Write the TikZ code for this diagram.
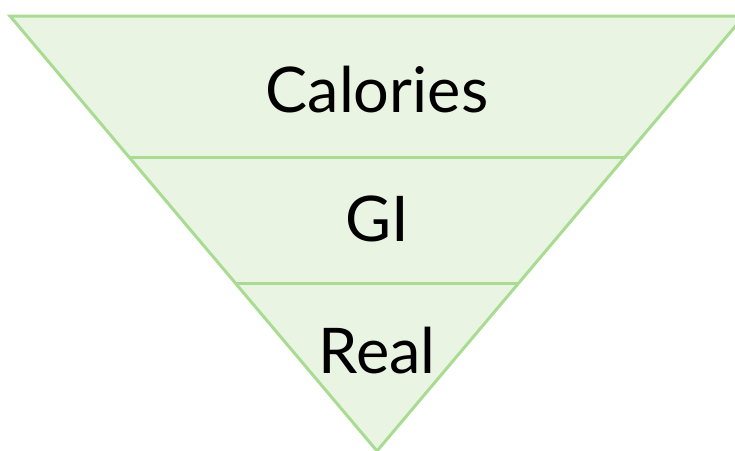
\documentclass[tikz,border=0pt]{standalone}
\usepackage{fontspec}
\setmainfont{Lato}
\definecolor{fillg}{HTML}{E9F4E3}
\definecolor{lineg}{HTML}{A9DC92}
\tikzset{
  tier/.style={fill=fillg,draw=lineg,line width=3pt,line join=miter},
  lbl/.style={font=\fontsize{63}{72}\selectfont,text=black,inner sep=0pt}
}
\begin{document}
\begin{tikzpicture}[x=1pt,y=-1pt]
\useasboundingbox (0,0) rectangle (735,450);
\begin{scope}
\clip (0,0) rectangle (735,450);
\coordinate (tl) at (10,16);
\coordinate (tr) at (744,16);
\coordinate (ap) at (377,451);
\coordinate (l1) at (130,157);
\coordinate (r1) at (624,157);
\coordinate (l2) at (236,283);
\coordinate (r2) at (518,283);
\draw[tier] (tl) -- (tr) -- (ap) -- cycle;
\draw[tier] (l1) -- (r1);
\draw[tier] (l2) -- (r2);
\end{scope}
\node[lbl] (cal) at (377,90) {Calories};
\node[lbl] (gi) at (377,219) {GI};
\node[lbl] (real) at (377,351) {Real};
\end{tikzpicture}
\end{document}
